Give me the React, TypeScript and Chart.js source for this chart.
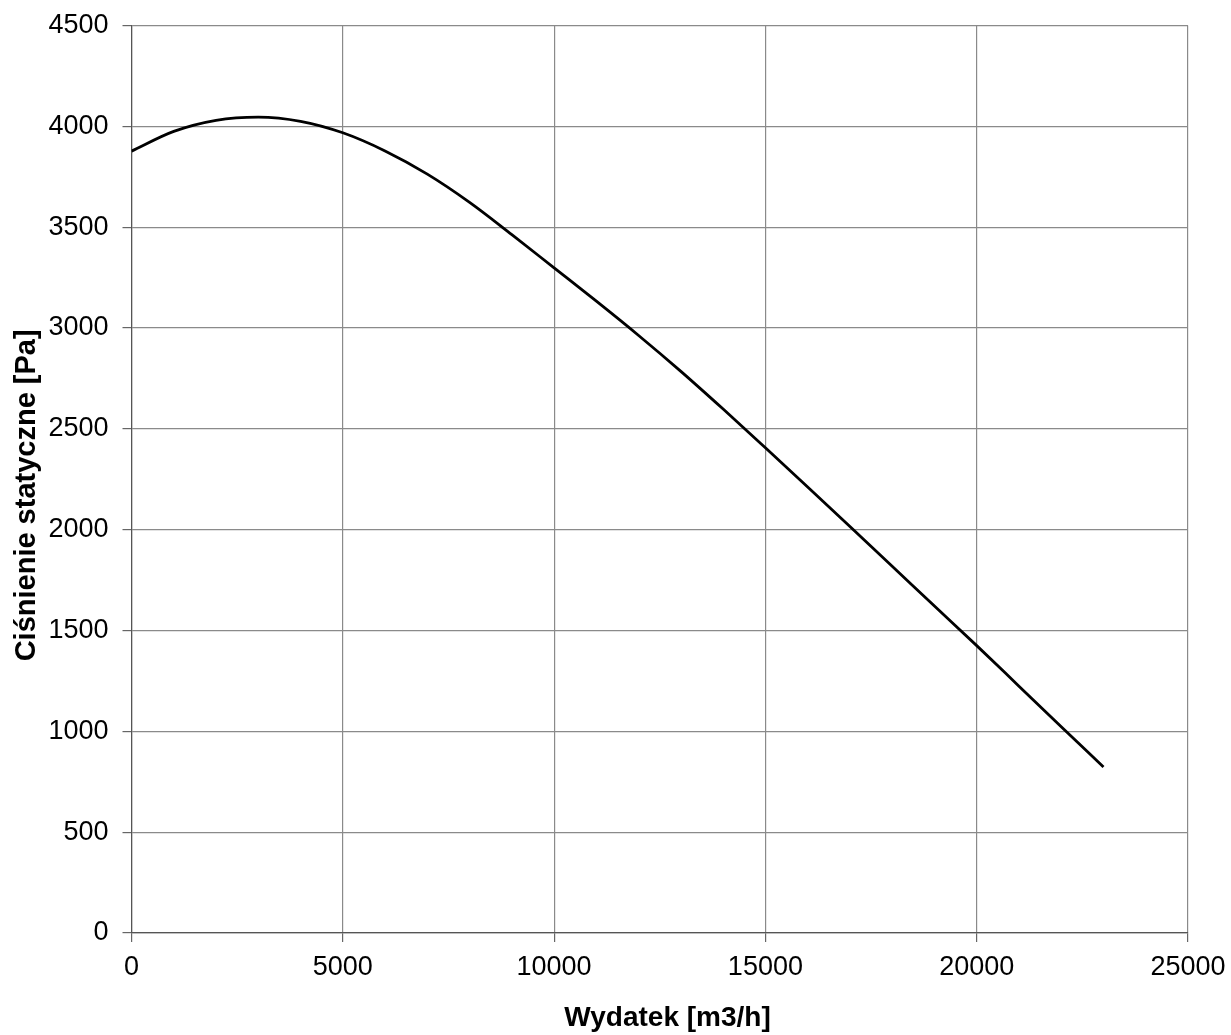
import React, { useEffect, useRef } from "react";
import { Chart, registerables } from "chart.js";

Chart.register(...registerables);

const flowValues = [0, 1000, 2000, 3000, 4000, 5000, 6000, 7000, 8000, 9000, 10000, 11000, 12000, 13000, 14000, 15000, 16000, 17000, 18000, 19000, 20000, 21000, 22000, 23000];
const pressureValues = [3877, 3975, 4030, 4046, 4025, 3968, 3878, 3763, 3623, 3463, 3298, 3133, 2963, 2785, 2598, 2406, 2212, 2016, 1819, 1621, 1425, 1224, 1023, 823];

const xTitle = "  Wydatek [m3/h]";
const yTitle = "Ciśnienie statyczne [Pa]    ";
const xMin = 0, xMax = 25000, xStep = 5000;
const yMin = 0, yMax = 4500, yStep = 500;

export default function App() {
  const ref = useRef<HTMLCanvasElement | null>(null);
  useEffect(() => {
    if (!ref.current) return;
    const points = flowValues.map((x, i) => ({ x, y: pressureValues[i] }));
    const font = "'Liberation Sans', Arial, sans-serif";
    const plain = (v: any) => String(v);
    const chart = new Chart(ref.current, {
      type: "line",
      data: {
        datasets: [
          {
            data: points,
            borderColor: "#000000",
            borderWidth: 2.8,
            pointRadius: 0,
            cubicInterpolationMode: "monotone",
            fill: false,
          },
        ],
      },
      options: {
        animation: false,
        responsive: false,
        devicePixelRatio: 1,
        layout: { padding: { left: 0, top: 25.5, right: 43, bottom: 0 } },
        plugins: { legend: { display: false }, tooltip: { enabled: false } },
        scales: {
          x: {
            type: "linear",
            min: xMin,
            max: xMax,
            ticks: { stepSize: xStep, color: "#000", font: { family: font, size: 27 }, padding: 9, maxRotation: 0, callback: plain },
            grid: { color: "#8a8a8a", lineWidth: 1.2, tickLength: 9, tickColor: "#666" },
            border: { color: "#555", width: 1.2 },
            title: { display: true, text: xTitle, color: "#000", font: { family: font, size: 28, weight: "bold" }, padding: { top: 0, bottom: 0 } },
            afterFit: (s: any) => { s.height = 102; s.paddingLeft = 0; s.paddingRight = 0; },
          },
          y: {
            type: "linear",
            min: yMin,
            max: yMax,
            ticks: { stepSize: yStep, color: "#000", font: { family: font, size: 27 }, padding: 14, callback: plain },
            grid: { color: "#8a8a8a", lineWidth: 1.2, tickLength: 9, tickColor: "#666" },
            border: { color: "#555", width: 1.2 },
            title: { display: true, text: yTitle, color: "#000", font: { family: font, size: 29, weight: "bold" }, padding: { top: 10, bottom: 0 } },
            afterFit: (s: any) => { s.width = 131.5; s.paddingTop = 0; s.paddingBottom = 0; },
          },
        },
      },
    });
    return () => chart.destroy();
  }, []);
  return (
    <div style={{ position: "fixed", left: 0, top: 0, width: 1231, height: 1035, background: "#fff" }}>
      <canvas ref={ref} width={1231} height={1035} style={{ width: 1231, height: 1035, display: "block" }} />
    </div>
  );
}
